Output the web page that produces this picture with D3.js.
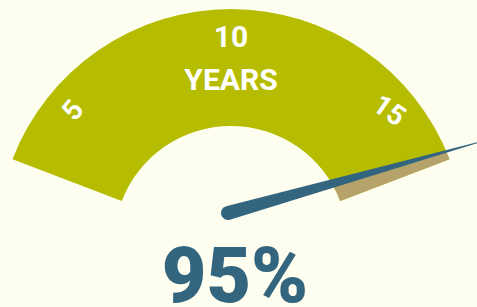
<!DOCTYPE html>
<html>
<head>
<meta charset="utf-8">
<script src="https://d3js.org/d3.v7.min.js"></script>
<style>
  body { margin: 0; background: #fefef0; }
  text { font-family: Roboto, "Open Sans", sans-serif; font-weight: 700; }
</style>
</head>
<body>
<script>

//the data
var tickYears = [5, 10, 15];
var gaugeYears = [3.1, 16.9];   // where the band starts and stops
var unitLabel = "YEARS";
var percentValue = 95;

//width and height of the canvas
var w = 477;
var h = 307;

//centre of the gauge, band radii
var cx = 231, cy = 243;
var rOuter = 234, rInner = 117, rLabel = 207;

var green = "#b6bd00",
    tan = "#b5a36b",
    blue = "#33657f";

var svg = d3.select("body")
  .append("svg")
  .attr("width", w)
  .attr("height", h);

//years -> degrees (0 = straight up, clockwise)
var yearAngle = d3.scaleLinear().domain([5, 15]).range([-50, 50]);
//percent -> needle angle
var needleAngle = d3.scaleLinear().domain([0, 100]).range([-82.5, 82.5]);

var rad = Math.PI / 180;

var arc = d3.arc()
  .innerRadius(rInner)
  .outerRadius(rOuter);

var g = svg.append("g")
  .attr("transform", "translate(" + cx + "," + cy + ")");

//needle pivot sits a bit above the gauge centre
var pivot = [cx - 3, cy - 30];
var nAng = needleAngle(percentValue);

//clip: everything below the needle line (the tan part of the band)
var dir = [Math.sin(nAng * rad), -Math.cos(nAng * rad)];
var far = 600;
var clipPts = [
  [pivot[0] - dir[0] * far, pivot[1] - dir[1] * far],
  [pivot[0] + dir[0] * far, pivot[1] + dir[1] * far],
  [pivot[0] + dir[0] * far, h + far],
  [pivot[0] - dir[0] * far, h + far]
];
svg.append("defs").append("clipPath")
  .attr("id", "below")
  .append("polygon")
  .attr("points", clipPts.map(function(p){ return p.join(","); }).join(" "));

var band = {
  startAngle: yearAngle(gaugeYears[0]) * rad,
  endAngle: yearAngle(gaugeYears[1]) * rad
};

g.append("path")
  .attr("d", arc(band))
  .style("fill", green);

svg.append("g")
  .attr("clip-path", "url(#below)")
  .append("path")
  .attr("transform", "translate(" + cx + "," + cy + ")")
  .attr("d", arc(band))
  .style("fill", tan);

//year labels round the band
var tickRotate = { 5: -50, 10: 0, 15: 35 };
g.selectAll(".tick")
  .data(tickYears)
  .enter()
  .append("text")
  .attr("class", "tick")
  .attr("transform", function(d){
    var a = yearAngle(d) * rad;
    return "translate(" + (Math.sin(a) * rLabel) + "," + (-Math.cos(a) * rLabel) + ")" +
      " rotate(" + tickRotate[d] + ")";
  })
  .attr("text-anchor", "middle")
  .attr("dy", "0.35em")
  .style("fill", "#fff")
  .style("font-size", function(d){ return d === 10 ? "30px" : "28px"; })
  .text(function(d){ return d; });

g.append("text")
  .attr("x", 0)
  .attr("y", -164)
  .attr("dy", "0.35em")
  .attr("text-anchor", "middle")
  .style("fill", "#fff")
  .style("font-size", "30px")
  .text(unitLabel);

//needle: tapered spike with a round butt
var nLen = 277, nHalf = 7;
svg.append("path")
  .attr("transform", "translate(" + pivot[0] + "," + pivot[1] + ") rotate(" + nAng + ")")
  .attr("d", "M" + (-nHalf) + ",0 L0," + (-nLen) + " L" + nHalf + ",0 A" + nHalf + "," + nHalf + " 0 0 1 " + (-nHalf) + ",0 Z")
  .style("fill", blue);

//big percentage
svg.append("text")
  .attr("x", 235)
  .attr("y", 302)
  .attr("text-anchor", "middle")
  .style("fill", blue)
  .style("font-size", "77px")
  .style("font-weight", 900)
  .text(percentValue + "%");

</script>
</body>
</html>
